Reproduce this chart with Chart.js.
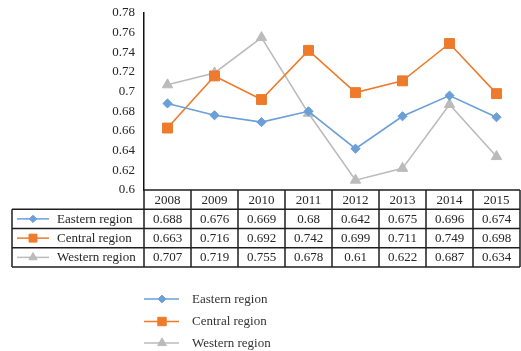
<!DOCTYPE html>
<html><head><meta charset="utf-8">
<script src="https://cdn.jsdelivr.net/npm/chart.js@4"></script>
<style>html,body{margin:0;padding:0;background:#fff;overflow:hidden}#wrap{width:521px;height:351px;position:relative}</style>
</head><body><div id="wrap"><canvas id="c"></canvas></div>
<script>
const years = ['2008','2009','2010','2011','2012','2013','2014','2015'];
const eastern = [0.688,0.676,0.669,0.68,0.642,0.675,0.696,0.674];
const central = [0.663,0.716,0.692,0.742,0.699,0.711,0.749,0.698];
const western = [0.707,0.719,0.755,0.678,0.61,0.622,0.687,0.634];
const seriesNames = ['Eastern region','Central region','Western region'];
const yMin = 0.6, yMax = 0.78, yStep = 0.02;

const FONT = '"Liberation Serif", "Times New Roman", serif';
const colors = ['#6A9FD8','#EE7A2C','#BBBBBB'];
const styles = ['rectRot','rect','triangle'];
const radii = [4.6,7,6];

function drawMarker(ctx, style, x, y, r, color){
  ctx.save();
  ctx.fillStyle = color; ctx.strokeStyle = color; ctx.lineWidth = 1;
  ctx.beginPath();
  if (style === 'rectRot') {
    ctx.moveTo(x, y - r); ctx.lineTo(x + r, y); ctx.lineTo(x, y + r); ctx.lineTo(x - r, y);
  } else if (style === 'rect') {
    const s = r * Math.SQRT1_2;
    ctx.rect(x - s, y - s, 2 * s, 2 * s);
  } else {
    ctx.moveTo(x, y - r);
    ctx.lineTo(x + Math.sin(2*Math.PI/3) * r, y - Math.cos(2*Math.PI/3) * r);
    ctx.lineTo(x + Math.sin(4*Math.PI/3) * r, y - Math.cos(4*Math.PI/3) * r);
  }
  ctx.closePath(); ctx.fill(); ctx.stroke();
  ctx.restore();
}

const tablePlugin = {
  id: 'tablePlugin',
  afterDraw(chart) {
    const ctx = chart.ctx;
    const xs = chart.scales.x;
    const area = chart.chartArea;
    const n = years.length;
    const colW = (area.right - area.left) / n;
    const rowH = 19.25;
    const top = area.bottom;
    const tableLeft = 12;
    const values = [eastern, central, western];
    ctx.save();
    ctx.font = '13px ' + FONT;
    ctx.fillStyle = '#262626';
    ctx.textBaseline = 'middle';
    ctx.textAlign = 'center';
    years.forEach((yr, i) => {
      ctx.fillText(yr, xs.getPixelForValue(i), top + rowH / 2 + 0.5);
    });
    values.forEach((arr, r) => {
      const cy = top + rowH * (r + 1) + rowH / 2 + 0.5;
      arr.forEach((v, i) => {
        ctx.fillText(String(v), xs.getPixelForValue(i), cy);
      });
    });
    ctx.textAlign = 'left';
    seriesNames.forEach((name, r) => {
      const cy = top + rowH * (r + 1) + rowH / 2;
      ctx.strokeStyle = colors[r]; ctx.lineWidth = 1.5;
      ctx.beginPath(); ctx.moveTo(17, cy); ctx.lineTo(49, cy); ctx.stroke();
      drawMarker(ctx, styles[r], 33, cy, radii[r] * 0.8, colors[r]);
      ctx.fillStyle = '#262626';
      ctx.fillText(name, 57, cy + 0.5);
    });
    ctx.strokeStyle = '#1f1f1f';
    ctx.lineWidth = 1.5;
    ctx.beginPath();
    ctx.moveTo(area.left, top); ctx.lineTo(area.right, top);
    for (let r = 1; r <= 4; r++) {
      const y = top + rowH * r;
      ctx.moveTo(tableLeft, y); ctx.lineTo(area.right, y);
    }
    for (let i = 0; i <= n; i++) {
      const x = area.left + colW * i;
      ctx.moveTo(x, top); ctx.lineTo(x, top + rowH * 4);
    }
    ctx.moveTo(tableLeft, top + rowH); ctx.lineTo(tableLeft, top + rowH * 4);
    ctx.stroke();

    const legY = [299, 321.5, 343];
    ctx.font = '13px ' + FONT;
    seriesNames.forEach((name, r) => {
      const cy = legY[r];
      ctx.strokeStyle = colors[r]; ctx.lineWidth = 1.5;
      ctx.beginPath(); ctx.moveTo(144, cy); ctx.lineTo(179, cy); ctx.stroke();
      drawMarker(ctx, styles[r], 162, cy, radii[r] * 0.85, colors[r]);
      ctx.fillStyle = '#333333';
      ctx.fillText(name, 192, cy + 0.5);
    });
    ctx.restore();
  }
};

const seriesData = [eastern, central, western];
new Chart(document.getElementById('c'), {
  type: 'line',
  data: {
    labels: years,
    datasets: seriesNames.map((name, i) => ({
      label: name,
      data: seriesData[i],
      borderColor: colors[i],
      backgroundColor: colors[i],
      borderWidth: 1.6,
      pointStyle: styles[i],
      pointRadius: radii[i],
      pointHoverRadius: radii[i],
      pointBorderWidth: 1,
      tension: 0,
      fill: false,
      clip: false
    }))
  },
  options: {
    responsive: true,
    maintainAspectRatio: false,
    animation: false,
    events: [],
    layout: { autoPadding: false, padding: { left: 0, right: 1, top: 13, bottom: 161 } },
    plugins: { legend: { display: false }, tooltip: { enabled: false } },
    scales: {
      x: { display: false, offset: true },
      y: {
        min: yMin, max: yMax,
        afterFit(scale) { scale.width = 144; scale.paddingTop = 0; scale.paddingBottom = 0; },
        grid: { display: false, drawTicks: false },
        border: { display: true, color: '#111', width: 1.5 },
        ticks: {
          stepSize: yStep,
          padding: 9,
          color: '#262626',
          font: { family: FONT, size: 13 },
          callback: v => String(+v.toFixed(2))
        }
      }
    }
  },
  plugins: [tablePlugin]
});
</script>
</body></html>
